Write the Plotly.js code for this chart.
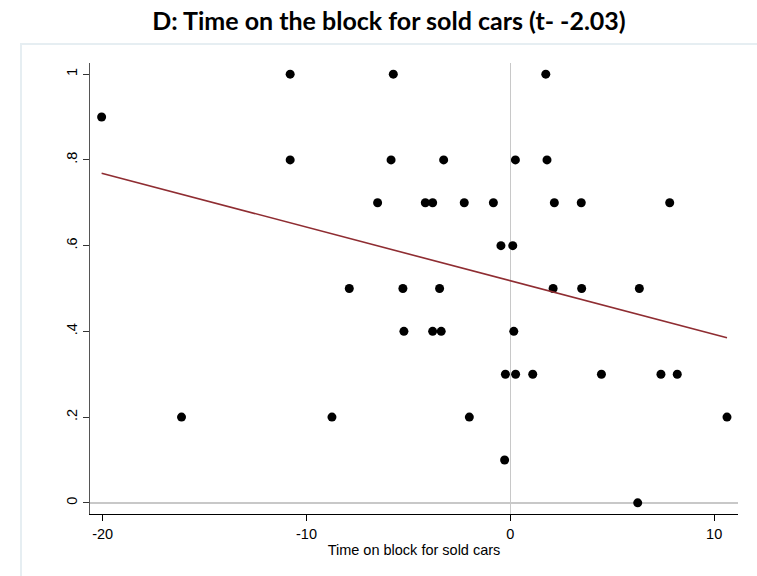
<!DOCTYPE html>
<html>
<head>
<meta charset="utf-8">
<script src="https://cdn.plot.ly/plotly-3.0.1.min.js"></script>
<style>
  html, body { margin: 0; padding: 0; background: #ffffff; }
  #chart { width: 757px; height: 576px; }
</style>
</head>
<body>
<div id="chart"></div>
<script>
// Scatter data: time on block (x) vs share (y)
const timeOnBlock = [-20.05, -16.13, -10.8, -10.8, -8.75, -7.9, -6.51, -5.85, -5.74, -5.27,
  -5.22, -4.17, -3.81, -3.81, -3.47, -3.39, -3.27, -2.26, -2.01, -0.83,
  -0.46, -0.28, -0.24, 0.12, 0.17, 0.25, 0.26, 1.10, 1.74, 1.80,
  2.10, 2.16, 3.48, 3.50, 4.47, 6.25, 6.33, 7.39, 7.82, 8.19, 10.63];
const shareValue = [0.9, 0.2, 1.0, 0.8, 0.2, 0.5, 0.7, 0.8, 1.0, 0.5,
  0.4, 0.7, 0.7, 0.4, 0.5, 0.4, 0.8, 0.7, 0.2, 0.7,
  0.6, 0.1, 0.3, 0.6, 0.4, 0.8, 0.3, 0.3, 1.0, 0.8,
  0.5, 0.7, 0.7, 0.5, 0.3, 0.0, 0.5, 0.3, 0.7, 0.3, 0.2];

// Fitted line endpoints
const fitX = [-20.05, 10.63];
const fitY = [0.769, 0.385];

// Tick labels
const xTickVals = [-20, -10, 0, 10];
const xTickText = ["-20", "-10", "0", "10"];
const yTickVals = [0, 0.2, 0.4, 0.6, 0.8, 1];
const yTickText = ["0", ".2", ".4", ".6", ".8", "1"];

const traces = [
  {
    x: timeOnBlock, y: shareValue, type: 'scatter', mode: 'markers',
    marker: { color: '#000000', size: 9 },
    hoverinfo: 'x+y', showlegend: false
  },
  {
    x: fitX, y: fitY, type: 'scatter', mode: 'lines',
    line: { color: '#8f2d32', width: 1.6 },
    hoverinfo: 'skip', showlegend: false
  }
];

const W = 757, H = 576;
const mL = 90, mR = 19, mT = 63, mB = 62;
const pw = W - mL - mR, ph = H - mT - mB;
function px2paperX(p) { return (p - mL) / pw; }
function px2paperY(p) { return (H - mB - p) / ph; }

const axisFont = { family: '"Liberation Sans", Arial, sans-serif', size: 14.5, color: '#000000' };

const layout = {
  width: W, height: H,
  margin: { l: mL, r: mR, t: mT, b: mB, pad: 0 },
  paper_bgcolor: '#ffffff',
  plot_bgcolor: '#ffffff',
  font: axisFont,
  title: {
    text: '<b>D: Time on the block for sold cars (t- -2.03)</b>',
    font: { family: 'Lato, sans-serif', size: 25, color: '#000000' },
    x: (21 + 757) / 2 / W, xanchor: 'center',
    y: 1 - 21 / H, yanchor: 'middle'
  },
  xaxis: {
    range: [-20.62, 11.17],
    tickmode: 'array', tickvals: xTickVals, ticktext: xTickText,
    ticks: 'outside', ticklen: 6, tickcolor: '#000000', tickwidth: 1,
    showline: true, linecolor: '#000000', linewidth: 1.2,
    showgrid: false,
    zeroline: true, zerolinecolor: '#c8c8c8', zerolinewidth: 1.6,
    tickfont: axisFont,
    title: { text: 'Time on block for sold cars', font: axisFont, standoff: 4 },
    fixedrange: true
  },
  yaxis: {
    range: [-0.026, 1.026],
    tickmode: 'array', tickvals: yTickVals, ticktext: yTickText,
    tickangle: -90,
    ticks: 'outside', ticklen: 6, tickcolor: '#333333', tickwidth: 1,
    showline: true, linecolor: '#555555', linewidth: 1.5,
    showgrid: false,
    zeroline: true, zerolinecolor: '#c8c8c8', zerolinewidth: 1.6,
    tickfont: axisFont,
    fixedrange: true
  },
  shapes: [
    {
      type: 'rect', xref: 'paper', yref: 'paper', layer: 'below',
      x0: px2paperX(21), x1: px2paperX(760),
      y0: px2paperY(580), y1: px2paperY(44),
      line: { color: '#e6eef2', width: 2 },
      fillcolor: 'rgba(0,0,0,0)'
    }
  ],
  showlegend: false
};

Plotly.newPlot('chart', traces, layout, { displayModeBar: false, staticPlot: true });
</script>
</body>
</html>
